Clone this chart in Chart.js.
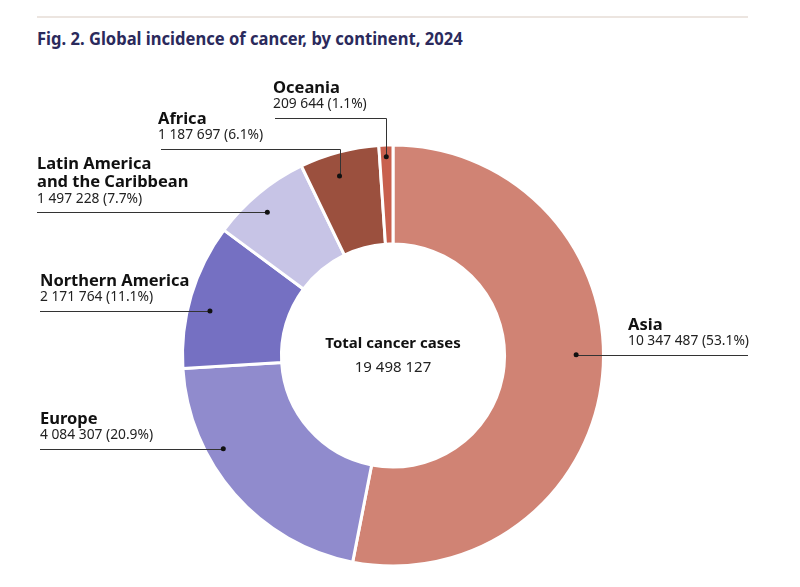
<!DOCTYPE html>
<html>
<head>
<meta charset="utf-8">
<script src="https://cdn.jsdelivr.net/npm/chart.js@4.4.1/dist/chart.umd.min.js"></script>
<style>
    html, body { margin: 0; padding: 0; background: #fff; }
    body { width: 800px; height: 587px; position: relative; overflow: hidden; font-family: "Noto Sans", "Open Sans", sans-serif; }
    #rule { position: absolute; left: 37px; top: 16px; width: 711px; height: 2px; background: #ece5e0; }
    #title { position: absolute; left: 37px; top: 26px; font-size: 18px; font-weight: 700; color: #2b2a5c; white-space: nowrap; transform-origin: left top; }
    #wrap { position: absolute; left: 0; top: 0; width: 800px; height: 587px; }
</style>
</head>
<body>
<div id="rule"></div>
<div id="title">Fig. 2. Global incidence of cancer, by continent, 2024</div>
<div id="wrap"><canvas id="chart"></canvas></div>
<script>
// data
const continents = ['Asia', 'Europe', 'Northern America', 'Latin America and the Caribbean', 'Africa', 'Oceania'];
const cases = [10347487, 4084307, 2171764, 1497228, 1187697, 209644];
const shares = [53.1, 20.9, 11.1, 7.7, 6.1, 1.1];
const totalCases = 19498127;
const sliceColors = ['#d08374', '#908bcd', '#7570c2', '#c7c4e6', '#9b503e', '#c8604e'];

// label placement: where the dot sits on the slice and where the text goes
const labelLayout = [
    { lines: ['Asia'], side: 'right', textX: 628, lineEnd: 748, along: 0.47, radius: 0.87 },
    { lines: ['Europe'], side: 'left', textX: 40, lineEnd: 40, along: 0.665, radius: 0.92 },
    { lines: ['Northern America'], side: 'left', textX: 40, lineEnd: 40, along: 0.43, radius: 0.895 },
    { lines: ['Latin America', 'and the Caribbean'], side: 'left', textX: 37, lineEnd: 37, along: 0.44, radius: 0.905 },
    { lines: ['Africa'], side: 'left', textX: 158, lineEnd: 161, elbowY: 149, along: 0.42, radius: 0.89 },
    { lines: ['Oceania'], side: 'left', textX: 273, lineEnd: 275, elbowY: 118, along: 0.5, radius: 0.945 }
];

const fmt = n => String(n).replace(/\B(?=(\d{3})+(?!\d))/g, ' ');

// fit the condensed-looking title to its width in the figure
const title = document.getElementById('title');
title.style.transform = 'scaleX(' + (426 / title.offsetWidth) + ')';

const calloutPlugin = {
    id: 'callouts',
    afterDraw(chart) {
        const ctx = chart.ctx;
        const arcs = chart.getDatasetMeta(0).data;
        ctx.save();
        arcs.forEach((arc, i) => {
            const lay = labelLayout[i];
            const a = arc.startAngle + (arc.endAngle - arc.startAngle) * lay.along;
            const r = arc.outerRadius * lay.radius;
            const dx = arc.x + Math.cos(a) * r;
            const dy = arc.y + Math.sin(a) * r;
            const lineY = lay.elbowY !== undefined ? lay.elbowY : dy;

            // leader line
            ctx.strokeStyle = '#333';
            ctx.lineWidth = 1;
            ctx.beginPath();
            ctx.moveTo(lay.lineEnd, Math.round(lineY) + 0.5);
            ctx.lineTo(Math.round(dx) + 0.5, Math.round(lineY) + 0.5);
            if (lay.elbowY !== undefined) ctx.lineTo(Math.round(dx) + 0.5, dy);
            ctx.stroke();

            ctx.fillStyle = '#111';
            ctx.beginPath();
            ctx.arc(dx, dy, 2.5, 0, Math.PI * 2);
            ctx.fill();

            // text
            ctx.textAlign = 'left';
            ctx.textBaseline = 'middle';
            ctx.fillStyle = '#222';
            ctx.font = '13.8px "Noto Sans", "Open Sans", sans-serif';
            ctx.fillText(fmt(cases[i]) + ' (' + shares[i].toFixed(1) + '%)', lay.textX, lineY - 13.5);
            ctx.fillStyle = '#111';
            ctx.font = 'bold 16.5px "Noto Sans", "Open Sans", sans-serif';
            const n = lay.lines.length;
            lay.lines.forEach((t, k) => {
                ctx.fillText(t, lay.textX, lineY - 30 - (n - 1 - k) * 18);
            });
        });

        // centre text
        const cx = arcs[0].x, cy = arcs[0].y;
        ctx.textAlign = 'center';
        ctx.fillStyle = '#111';
        ctx.font = 'bold 15px "Noto Sans", "Open Sans", sans-serif';
        ctx.fillText('Total cancer cases', cx, cy - 12);
        ctx.fillStyle = '#222';
        ctx.font = '15px "Noto Sans", "Open Sans", sans-serif';
        ctx.fillText(fmt(totalCases), cx, cy + 12);
        ctx.restore();
    }
};

new Chart(document.getElementById('chart'), {
    type: 'doughnut',
    data: {
        labels: continents,
        datasets: [{
            data: cases,
            backgroundColor: sliceColors,
            borderColor: '#fff',
            borderWidth: 3
        }]
    },
    options: {
        responsive: true,
        maintainAspectRatio: false,
        animation: false,
        cutout: '53%',
        layout: { padding: { left: 181, right: 195, top: 143, bottom: 19 } },
        plugins: {
            legend: { display: false },
            tooltip: { enabled: false }
        }
    },
    plugins: [calloutPlugin]
});
</script>
</body>
</html>
